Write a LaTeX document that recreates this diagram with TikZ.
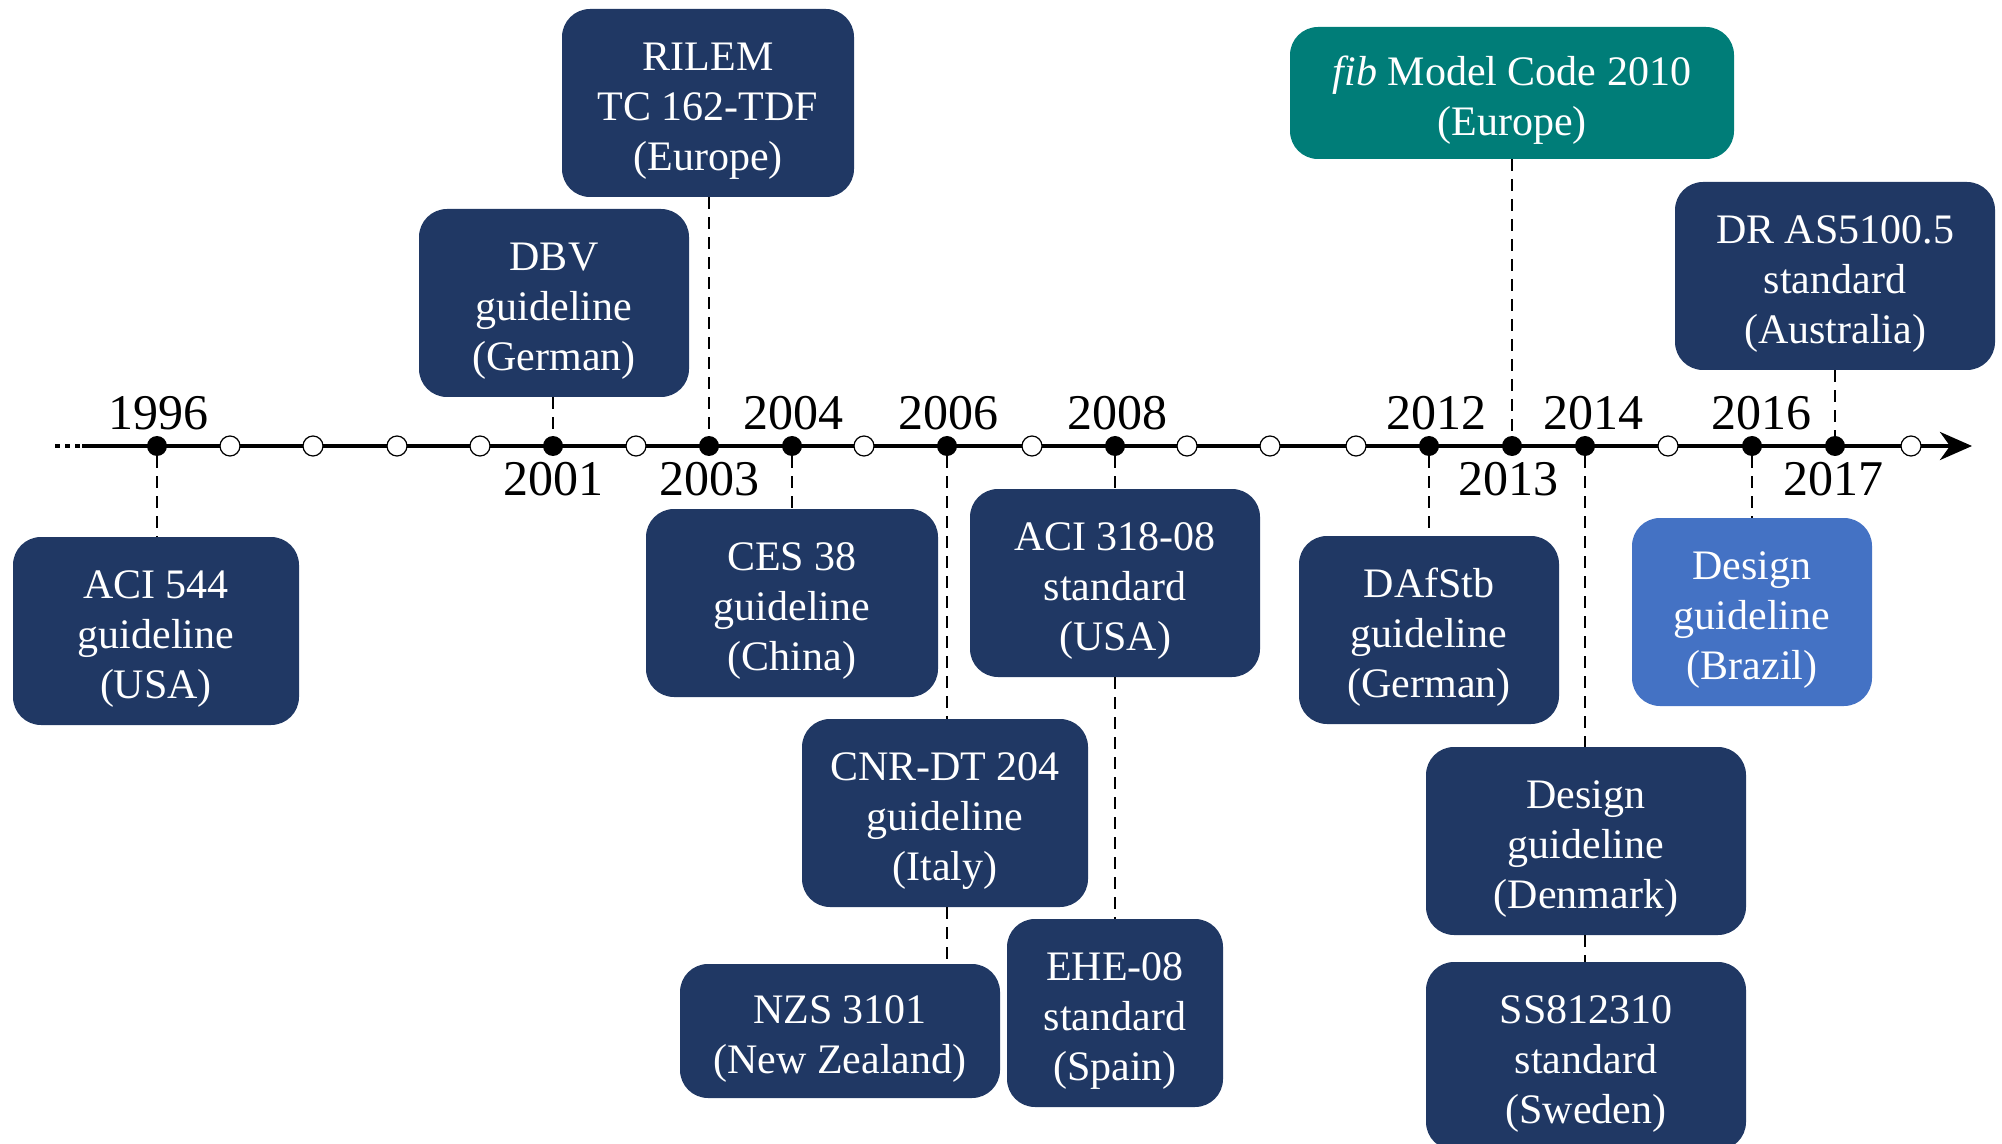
\documentclass[tikz,border=0pt]{standalone}
\usepackage{fontspec}
\setmainfont{Liberation Serif}
\usetikzlibrary{arrows.meta}
\definecolor{navy}{HTML}{203864}
\definecolor{teal}{HTML}{007D78}
\definecolor{lblue}{HTML}{4472C4}
\newcommand{\mybt}[1]{\raisebox{-3.8pt}[\height][\depth]{\begin{tabular}{@{}c@{}}#1\end{tabular}}}
\tikzset{
  box/.style={rounded corners=14pt, fill=navy, text=white, align=center,
    inner sep=0pt, font=\fontsize{21}{25}\selectfont},
  conn/.style={line width=1pt, dash pattern=on 6pt off 4pt},
  fdot/.style={circle, fill=black, minimum size=10pt, inner sep=0pt},
  odot/.style={circle, fill=white, draw=black, line width=0.6pt, minimum size=10pt, inner sep=0pt},
  year/.style={font=\fontsize{25}{28}\selectfont, inner sep=0pt},
}
\begin{document}
\begin{tikzpicture}[x=0.5pt,y=-0.5pt]
\useasboundingbox (0,0) rectangle (2002,1144);
% axis
\coordinate (axstart) at (82,446);
\coordinate (axend) at (1972,446);
\coordinate (dstart) at (55,446);
\coordinate (dend) at (80,446);
\draw[line width=2pt, dash pattern=on 2.5pt off 2.5pt] (dstart) -- (dend);
\draw[line width=2pt, -{Stealth[length=16pt,width=14pt,inset=5pt]}] (axstart) -- (axend);
% dots
\node[fdot] (d1996) at (157,446) {};
\node[odot] (d1997) at (230,446) {};
\node[odot] (d1998) at (313,446) {};
\node[odot] (d1999) at (397,446) {};
\node[odot] (d2000) at (480,446) {};
\node[fdot] (d2001) at (553,446) {};
\node[odot] (d2002) at (636,446) {};
\node[fdot] (d2003) at (709,446) {};
\node[fdot] (d2004) at (792,446) {};
\node[odot] (d2005) at (864,446) {};
\node[fdot] (d2006) at (947,446) {};
\node[odot] (d2007) at (1032,446) {};
\node[fdot] (d2008) at (1115,446) {};
\node[odot] (d2009) at (1187,446) {};
\node[odot] (d2010) at (1270,446) {};
\node[odot] (d2011) at (1356,446) {};
\node[fdot] (d2012) at (1429,446) {};
\node[fdot] (d2013) at (1512,446) {};
\node[fdot] (d2014) at (1585,446) {};
\node[odot] (d2015) at (1668,446) {};
\node[fdot] (d2016) at (1752,446) {};
\node[fdot] (d2017) at (1835,446) {};
\node[odot] (d2018) at (1911,446) {};
% year labels
\node[year] (y1996) at (158,413) {1996};
\node[year] (y2004) at (793,413) {2004};
\node[year] (y2006) at (948,413) {2006};
\node[year] (y2008) at (1117,413) {2008};
\node[year] (y2012) at (1436,413) {2012};
\node[year] (y2014) at (1593,413) {2014};
\node[year] (y2016) at (1761,413) {2016};
\node[year] (y2001) at (553,479) {2001};
\node[year] (y2003) at (709,479) {2003};
\node[year] (y2013) at (1508,479) {2013};
\node[year] (y2017) at (1833,479) {2017};
% boxes
\node[box, minimum width=143pt, minimum height=94pt] (aci544) at (156,631) {\mybt{ACI 544\\guideline\\(USA)}};
\node[box, minimum width=135pt, minimum height=94pt] (dbv) at (554,303) {\mybt{DBV\\guideline\\(German)}};
\node[box, minimum width=146pt, minimum height=94pt] (rilem) at (708,103) {\mybt{RILEM\\TC 162-TDF\\(Europe)}};
\node[box, minimum width=146pt, minimum height=94pt] (ces) at (792,603) {\mybt{CES 38\\guideline\\(China)}};
\node[box, minimum width=143pt, minimum height=94pt] (cnr) at (945,813) {\mybt{CNR-DT 204\\guideline\\(Italy)}};
\node[box, minimum width=160pt, minimum height=67pt] (nzs) at (840,1031) {\mybt{NZS 3101\\(New Zealand)}};
\node[box, minimum width=145pt, minimum height=94pt] (aci318) at (1115,583) {\mybt{ACI 318-08\\standard\\(USA)}};
\node[box, minimum width=108pt, minimum height=94pt] (ehe) at (1115,1013) {\mybt{EHE-08\\standard\\(Spain)}};
\node[box, fill=teal, minimum width=222pt, minimum height=66pt] (fib) at (1512,93) {\mybt{\textit{fib} Model Code 2010\\(Europe)}};
\node[box, minimum width=160pt, minimum height=94pt] (dras) at (1835,276) {\mybt{DR AS5100.5\\standard\\(Australia)}};
\node[box, minimum width=130pt, minimum height=94pt] (dafstb) at (1429,630) {\mybt{DAfStb\\guideline\\(German)}};
\node[box, fill=lblue, minimum width=120pt, minimum height=94pt] (brazil) at (1752,612) {\mybt{Design\\guideline\\(Brazil)}};
\node[box, minimum width=160pt, minimum height=94pt] (denmark) at (1586,841) {\mybt{Design\\guideline\\(Denmark)}};
\node[box, minimum width=160pt, minimum height=94pt] (ss) at (1586,1056) {\mybt{SS812310\\standard\\(Sweden)}};
% connectors
\draw[conn] (d1996.south) -- (d1996.south |- aci544.north);
\draw[conn] (d2001.north |- dbv.south) -- (d2001.north);
\draw[conn] (d2003.north |- rilem.south) -- (d2003.north);
\draw[conn] (d2004.south) -- (d2004.south |- ces.north);
\draw[conn] (d2006.south) -- (d2006.south |- cnr.north);
\draw[conn] (d2006 |- cnr.south) -- (d2006 |- nzs.north);
\draw[conn] (d2008.south) -- (d2008.south |- aci318.north);
\draw[conn] (d2008 |- aci318.south) -- (d2008 |- ehe.north);
\draw[conn] (d2012.south) -- (d2012.south |- dafstb.north);
\draw[conn] (d2013.north |- fib.south) -- (d2013.north);
\draw[conn] (d2014.south) -- (d2014.south |- denmark.north);
\draw[conn] (d2014 |- denmark.south) -- (d2014 |- ss.north);
\draw[conn] (d2016.south) -- (d2016.south |- brazil.north);
\draw[conn] (d2017.north |- dras.south) -- (d2017.north);
\end{tikzpicture}
\end{document}
